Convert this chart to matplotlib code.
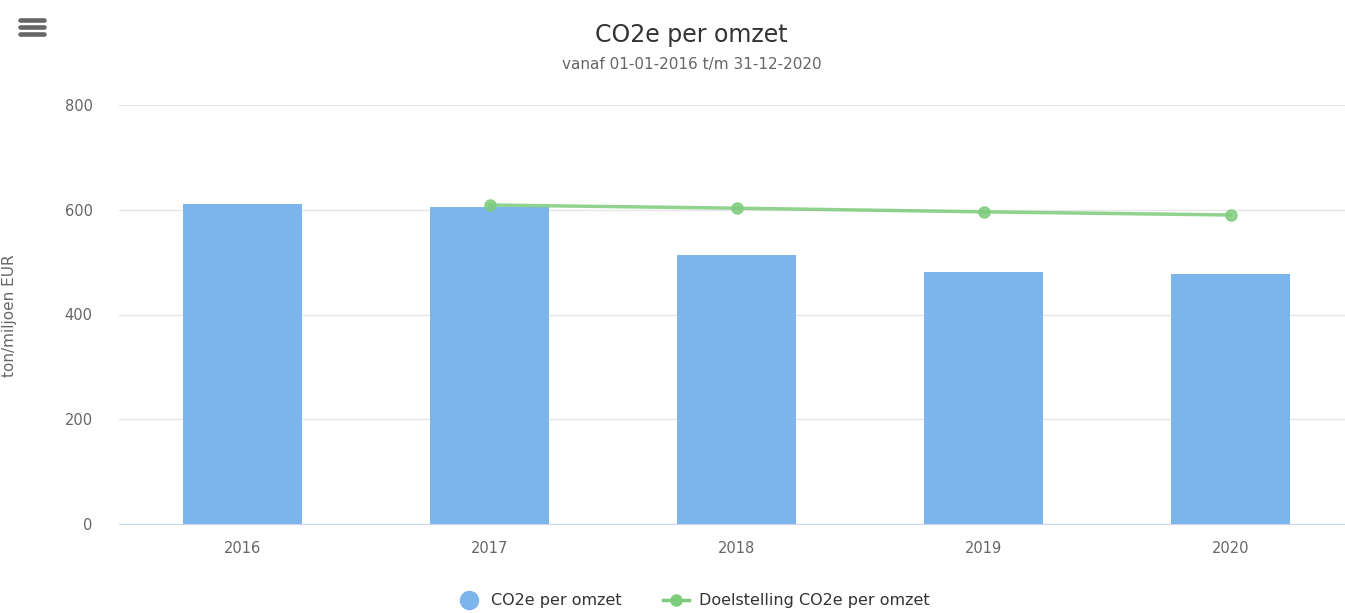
import numpy as np
import matplotlib.pyplot as plt
from matplotlib.lines import Line2D

years = ['2016', '2017', '2018', '2019', '2020']
co2e_per_omzet = [611, 605, 513, 481, 477]
target_years = ['2017', '2018', '2019', '2020']
target_values = [609, 603, 596, 590]

bar_color = '#7cb5ec'
line_color = '#7ccc7c'
text_color = '#666666'

plt.rcParams['font.family'] = ['DejaVu Sans']

fig = plt.figure(figsize=(13.45, 6.13), dpi=100)
ax = fig.add_axes([119 / 1345, 1 - 524 / 613, 1235 / 1345, 419 / 613])

x = np.arange(len(years))
ax.bar(x, co2e_per_omzet, width=0.48, color=bar_color, zorder=2)
tx = [years.index(y) for y in target_years]
ax.plot(tx, target_values, color=line_color, lw=2.5, marker='o', ms=8,
        alpha=0.85, zorder=3)

ax.set_xlim(-0.5, 4.5)
ax.set_ylim(0, 800)
ax.set_yticks([0, 200, 400, 600, 800])
ax.set_xticks(x)
ax.set_xticklabels(years)
ax.grid(axis='y', color='#e6e6e6', lw=1, zorder=0)
for s in ['top', 'right', 'left']:
    ax.spines[s].set_visible(False)
ax.spines['bottom'].set_color('#ccd6eb')
ax.tick_params(axis='y', length=0, pad=19, labelsize=10.5, labelcolor=text_color)
ax.tick_params(axis='x', length=0, pad=12, labelsize=10.5, labelcolor=text_color)

fig.text(0.514, 1 - 35 / 613, 'CO2e per omzet', ha='center', va='center',
         fontsize=17, color='#333333')
fig.text(0.514, 1 - 65 / 613, 'vanaf 01-01-2016 t/m 31-12-2020', ha='center',
         va='center', fontsize=11, color=text_color)
fig.text(10 / 1345, 1 - 316 / 613, 'ton/miljoen EUR', rotation=90, ha='center',
         va='center', fontsize=11, color=text_color)

# menu icon
for yy in [19.5, 26.5, 33.5]:
    fig.add_artist(Line2D([20 / 1345, 44 / 1345], [1 - yy / 613] * 2,
                          color='#666666', lw=3.3, solid_capstyle='round'))

handles = [
    Line2D([], [], ls='none', marker='o', ms=13, color=bar_color),
    Line2D([], [], color=line_color, lw=2.5, marker='o', ms=8),
]
fig.legend(handles, ['CO2e per omzet', 'Doelstelling CO2e per omzet'],
           loc='center', bbox_to_anchor=(0.515, 1 - 601 / 613), ncol=2,
           frameon=False, fontsize=11.5, labelcolor='#333333',
           handlelength=1.6, handletextpad=0.6, columnspacing=2.6)

fig.savefig('out.png', dpi=100)
